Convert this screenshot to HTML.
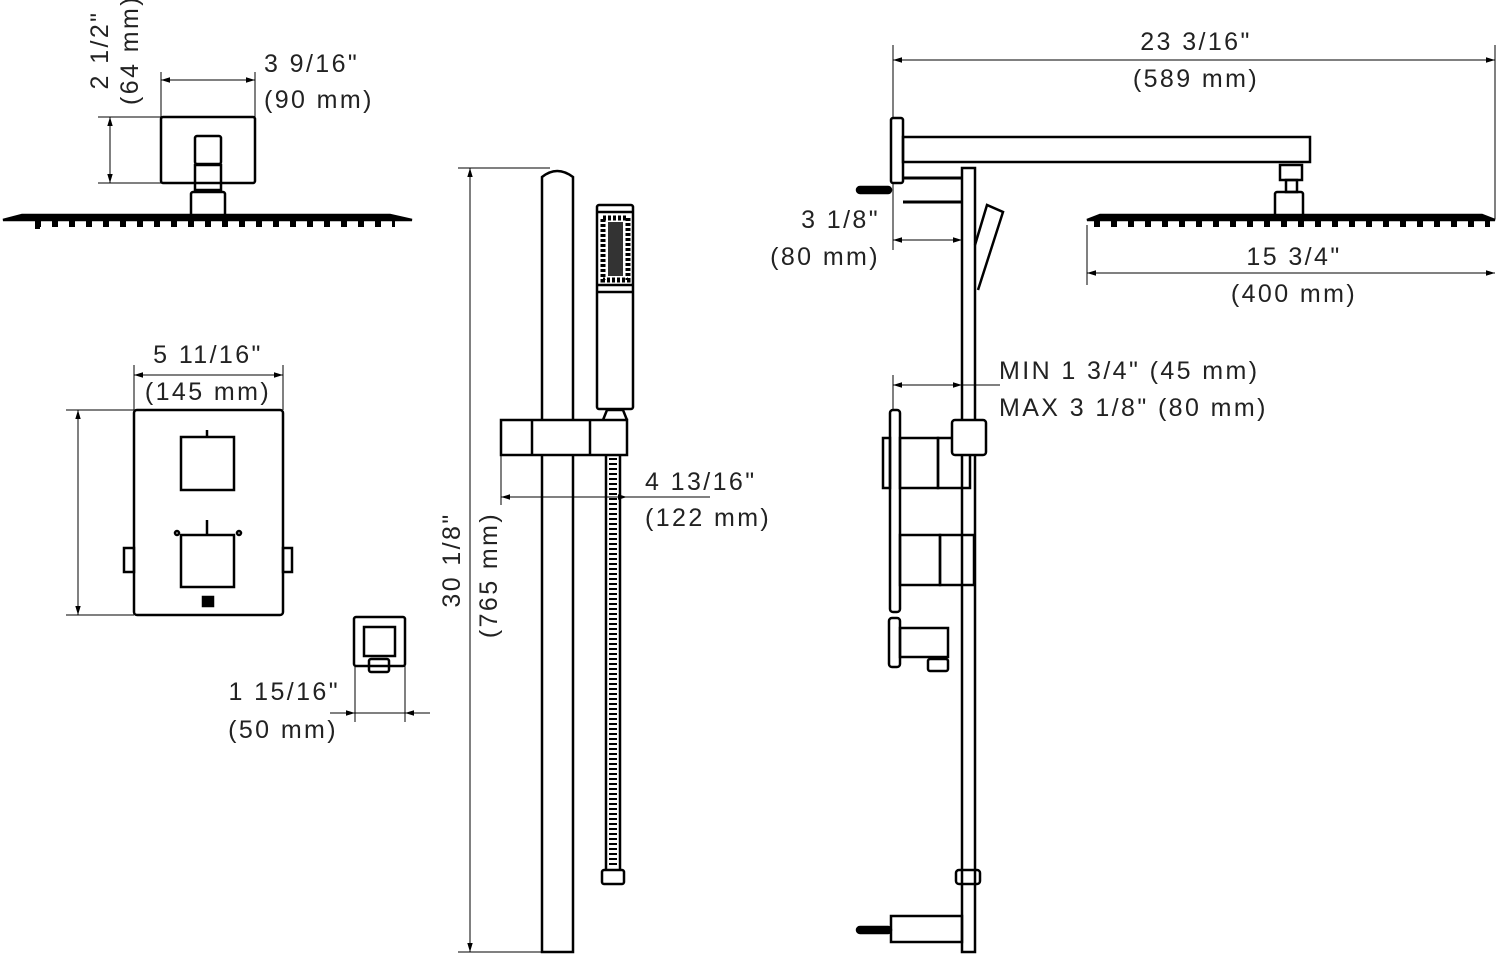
<!DOCTYPE html>
<html><head><meta charset="utf-8"><style>
html,body{margin:0;padding:0;background:#fff;}
svg{display:block;}
text{font-family:"Liberation Sans",sans-serif;font-size:25px;fill:#222;letter-spacing:2.4px;}
</style></head><body>
<svg width="1500" height="958" viewBox="0 0 1500 958" xmlns="http://www.w3.org/2000/svg">
<defs>
<marker id="a" viewBox="0 0 10 10" refX="10" refY="5" markerWidth="9" markerHeight="9" orient="auto-start-reverse" markerUnits="userSpaceOnUse"><path d="M0,2 L10,5 L0,8 z" fill="#000"/></marker>
</defs>
<g fill="none" stroke="#000" stroke-width="2.5">
<rect x="161" y="117" width="94" height="66" rx="2"/>
<rect x="195" y="136" width="26" height="28" rx="2"/>
<rect x="195" y="165" width="26" height="25"/>
<rect x="191" y="192" width="34" height="25" rx="2"/>
<path d="M3,220 L22,215 L390,215 L412,220 Z" fill="#000"/>
</g>
<g fill="#000" id="t1"></g>
<path d="M35,220 h5 v9 h-5z" fill="#000" stroke="none" id="tooth" />
<g fill="none" stroke="#000" stroke-width="6" stroke-dasharray="6 11">
<line x1="35" y1="224" x2="395" y2="224"/>
<line x1="1094" y1="224" x2="1490" y2="224"/>
</g>
<g stroke="#000" stroke-width="1" fill="none">
<line x1="98" y1="117" x2="161" y2="117"/><line x1="98" y1="183" x2="161" y2="183"/>
<line x1="110" y1="117" x2="110" y2="183" marker-start="url(#a)" marker-end="url(#a)"/>
<line x1="161" y1="72" x2="161" y2="117"/><line x1="255" y1="72" x2="255" y2="117"/>
<line x1="161" y1="80" x2="255" y2="80" marker-start="url(#a)" marker-end="url(#a)"/>
</g>
<text x="100" y="50" transform="rotate(-90 100 50)" text-anchor="middle" dominant-baseline="central">2 1/2"</text>
<text x="130" y="50" transform="rotate(-90 130 50)" text-anchor="middle" dominant-baseline="central">(64 mm)</text>
<text x="264" y="72">3 9/16"</text>
<text x="264" y="108">(90 mm)</text>

<g fill="none" stroke="#000" stroke-width="2.5">
<rect x="134" y="410" width="149" height="205" rx="3"/>
<rect x="181" y="437" width="53" height="53"/>
<rect x="181" y="535" width="53" height="52"/>
<rect x="124" y="548" width="10" height="24"/>
<rect x="283" y="548" width="9" height="24"/>
<rect x="203" y="597" width="10" height="9" fill="#000"/>
<line x1="207" y1="430" x2="207" y2="437"/>
<line x1="207" y1="520" x2="207" y2="535"/>
<circle cx="177" cy="533" r="2"/><circle cx="239" cy="533" r="2"/>
</g>
<g stroke="#000" stroke-width="1" fill="none">
<line x1="134" y1="365" x2="134" y2="410"/><line x1="283" y1="365" x2="283" y2="410"/>
<line x1="134" y1="375" x2="283" y2="375" marker-start="url(#a)" marker-end="url(#a)"/>
<line x1="66" y1="410" x2="134" y2="410"/><line x1="66" y1="615" x2="134" y2="615"/>
<line x1="78" y1="410" x2="78" y2="615" marker-start="url(#a)" marker-end="url(#a)"/>
</g>
<text x="208" y="363" text-anchor="middle">5 11/16"</text>
<text x="208" y="400" text-anchor="middle">(145 mm)</text>

<g fill="none" stroke="#000" stroke-width="2.5">
<rect x="354" y="617" width="51" height="49" rx="2"/>
<rect x="364" y="627" width="31" height="29"/>
<rect x="369" y="659" width="20" height="13" rx="2"/>
</g>
<g stroke="#000" stroke-width="1" fill="none">
<line x1="355" y1="666" x2="355" y2="722"/><line x1="405" y1="666" x2="405" y2="722"/>
<line x1="330" y1="713" x2="355" y2="713" marker-end="url(#a)"/>
<line x1="430" y1="713" x2="405" y2="713" marker-end="url(#a)"/>
<line x1="355" y1="713" x2="405" y2="713"/>
</g>
<text x="340" y="700" text-anchor="end">1 15/16"</text>
<text x="338" y="738" text-anchor="end">(50 mm)</text>

<g fill="none" stroke="#000" stroke-width="2.5">
<path d="M542,952 L542,177 Q557,165 573,177 L573,952 Z"/>
<rect x="597" y="205" width="36" height="204" rx="2"/>
<line x1="597" y1="212" x2="633" y2="212"/>
<line x1="597" y1="285" x2="633" y2="285"/>
<line x1="597" y1="292" x2="633" y2="292"/>
<path d="M603,420 L607,410 L623,410 L627,420"/>
<rect x="501" y="420" width="126" height="35" fill="#fff"/>
<line x1="532" y1="420" x2="532" y2="455"/>
<line x1="590" y1="420" x2="590" y2="455"/>
<line x1="606" y1="455" x2="606" y2="870"/>
<line x1="620" y1="455" x2="620" y2="870"/>
<rect x="602" y="870" width="22" height="14" rx="2"/>
</g>
<g fill="#000">
<rect x="603" y="218" width="25" height="62" fill="none" stroke="#000" stroke-width="5" stroke-dasharray="3 2"/>
<rect x="608" y="222" width="15" height="54" fill="#333"/>
</g>
<line x1="613" y1="458" x2="613" y2="868" stroke="#000" stroke-width="8" stroke-dasharray="2 3"/>
<g stroke="#000" stroke-width="1" fill="none">
<line x1="458" y1="168" x2="550" y2="168"/><line x1="458" y1="952" x2="542" y2="952"/>
<line x1="470" y1="168" x2="470" y2="952" marker-start="url(#a)" marker-end="url(#a)"/>
<line x1="501" y1="455" x2="501" y2="505"/>
<line x1="501" y1="497" x2="627" y2="497" marker-start="url(#a)" marker-end="url(#a)"/>
<line x1="627" y1="497" x2="710" y2="497"/>
</g>
<text x="452" y="560" transform="rotate(-90 452 560)" text-anchor="middle" dominant-baseline="central">30 1/8"</text>
<text x="489" y="575" transform="rotate(-90 489 575)" text-anchor="middle" dominant-baseline="central">(765 mm)</text>
<text x="645" y="490">4 13/16"</text>
<text x="645" y="526">(122 mm)</text>

<g fill="none" stroke="#000" stroke-width="2.5">
<rect x="891" y="118" width="12" height="65" rx="2"/>
<rect x="903" y="137" width="407" height="25"/>
<rect x="1280" y="165" width="22" height="15"/>
<rect x="1286" y="180" width="11" height="12"/>
<rect x="1275" y="192" width="28" height="24" rx="2"/>
<path d="M1087,220 L1100,215 L1482,215 L1495,220 Z" fill="#000"/>
<line x1="903" y1="178" x2="962" y2="178" stroke-width="3"/>
<line x1="903" y1="202" x2="962" y2="202" stroke-width="3"/>
<rect x="857" y="187" width="34" height="6" rx="3" fill="#000"/>
<rect x="962" y="168" width="13" height="784"/>
<path d="M975,245 L987,205 L1003,212 L978,290"/>
<rect x="890" y="410" width="10" height="202" rx="3"/>
<rect x="883" y="438" width="7" height="50"/>
<rect x="900" y="438" width="38" height="50"/>
<rect x="938" y="438" width="32" height="50"/>
<rect x="952" y="420" width="34" height="35" rx="3" fill="#fff"/>
<rect x="900" y="535" width="40" height="50"/>
<rect x="940" y="535" width="34" height="50"/>
<rect x="889" y="618" width="11" height="49" rx="3"/>
<rect x="900" y="628" width="48" height="29"/>
<rect x="928" y="659" width="20" height="12" rx="2"/>
<rect x="891" y="916" width="71" height="26"/>
<rect x="857" y="927" width="34" height="6" rx="3" fill="#000"/>
<rect x="956" y="870" width="24" height="14" rx="3"/>
</g>
<g stroke="#000" stroke-width="1" fill="none">
<line x1="893" y1="45" x2="893" y2="118"/><line x1="1495" y1="45" x2="1495" y2="219"/>
<line x1="893" y1="60" x2="1495" y2="60" marker-start="url(#a)" marker-end="url(#a)"/>
<line x1="1087" y1="225" x2="1087" y2="285"/>
<line x1="1087" y1="273" x2="1495" y2="273" marker-start="url(#a)" marker-end="url(#a)"/>
<line x1="893" y1="183" x2="893" y2="250"/>
<line x1="893" y1="240" x2="962" y2="240" marker-start="url(#a)" marker-end="url(#a)"/>
<line x1="893" y1="375" x2="893" y2="410"/>
<line x1="893" y1="385" x2="962" y2="385" marker-start="url(#a)" marker-end="url(#a)"/>
<line x1="962" y1="385" x2="1000" y2="385"/>
</g>
<text x="1196" y="50" text-anchor="middle">23 3/16"</text>
<text x="1196" y="87" text-anchor="middle">(589 mm)</text>
<text x="1294" y="265" text-anchor="middle">15 3/4"</text>
<text x="1294" y="302" text-anchor="middle">(400 mm)</text>
<text x="880" y="228" text-anchor="end">3 1/8"</text>
<text x="880" y="265" text-anchor="end">(80 mm)</text>
<text x="999" y="379">MIN 1 3/4" (45 mm)</text>
<text x="999" y="416">MAX 3 1/8" (80 mm)</text>
</svg>
</body></html>
